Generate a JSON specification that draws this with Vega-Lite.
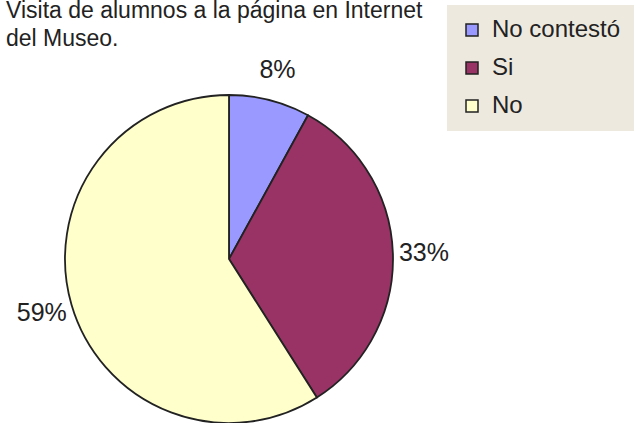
{
  "$schema": "https://vega.github.io/schema/vega-lite/v6.json",
  "autosize": {"type": "none"},
  "width": 328,
  "height": 328,
  "padding": {"left": 65, "top": 95, "right": 243, "bottom": 0},
  "background": "white",
  "title": {
    "text": ["Visita de alumnos a la página en Internet", "del Museo."],
    "anchor": "start",
    "frame": "group",
    "dx": -59,
    "offset": -46,
    "font": "Liberation Sans",
    "fontSize": 23,
    "fontWeight": "normal",
    "color": "#222222",
    "lineHeight": 28
  },
  "data": {
    "values": [
      {"respuesta": "No contestó", "porcentaje": 0.08, "orden": 1},
      {"respuesta": "Si", "porcentaje": 0.33, "orden": 2},
      {"respuesta": "No", "porcentaje": 0.59, "orden": 3}
    ]
  },
  "encoding": {
    "theta": {"field": "porcentaje", "type": "quantitative", "stack": true},
    "order": {"field": "orden", "type": "quantitative"}
  },
  "layer": [
    {
      "mark": {"type": "arc", "stroke": "#222222", "strokeWidth": 1.8},
      "encoding": {
        "color": {
          "field": "respuesta",
          "type": "nominal",
          "scale": {"domain": ["No contestó", "Si", "No"], "range": ["#9999FF", "#993366", "#FFFFCC"]},
          "legend": {
            "orient": "none",
            "legendX": 382,
            "legendY": -90,
            "title": null,
            "fillColor": "#EDE9DF",
            "padding": 13,
            "symbolType": "square",
            "symbolSize": 144,
            "symbolStrokeColor": "#222222",
            "symbolStrokeWidth": 1.5,
            "labelFont": "Liberation Sans",
            "labelFontSize": 24,
            "labelColor": "#222222",
            "labelOffset": 8,
            "rowPadding": 14
          }
        }
      }
    },
    {
      "mark": {"type": "text", "radius": 195, "font": "Liberation Sans", "fontSize": 25, "color": "#222222"},
      "encoding": {
        "text": {"field": "porcentaje", "type": "quantitative", "format": ".0%"}
      }
    }
  ]
}
